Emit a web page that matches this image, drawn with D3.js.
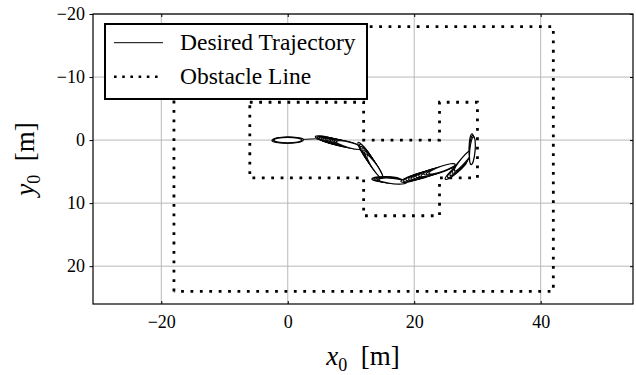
<!DOCTYPE html>
<html>
<head>
<meta charset="utf-8">
<script src="https://cdn.jsdelivr.net/npm/d3@7/dist/d3.min.js"></script>
<style>
  html, body { margin: 0; padding: 0; background: #fff; }
  svg { display: block; }
</style>
</head>
<body>
<svg id="chart" width="636" height="375"></svg>
<script>
// Axis ticks
const xTicks = [-20, 0, 20, 40];
const yTicks = [-20, -10, 0, 10, 20];

// Desired reference path [m]
const desiredX = [0, 4.4, 11.8, 15.0, 18.2, 26.5, 29.0, 29.2];
const desiredY = [0, -0.2, 1.1, 6.2, 6.6, 4.3, 2.0, -0.6];

// Obstacle boundaries [m]
const outerX = [-18, -18, 42, 42, -18];
const outerY = [24, -18, -18, 24, 24];
const innerX = [-6, 12, 12, 24, 24, 30, 30, 24, 24, 12, 12, -6, -6];
const innerY = [-6, -6, 0, 0, -6, -6, 6, 6, 12, 12, 6, 6, -6];

// Vehicle poses along the executed run: position [m], heading [deg]
const poseX = [-0.3, -0.1, 0.1, 0.3, 0,
  6.5, 6.8, 7.1, 7.4, 7.7, 8.0, 8.3, 8.6, 8.9, 9.2, 9.5, 9.8,
  12.4, 12.6, 12.8, 13.0, 13.2, 13.4, 13.6, 13.8,
  15.5, 15.8, 16.1, 16.4, 16.6,
  20.0, 20.4, 20.8, 21.2, 21.6, 22.0, 22.4, 22.8, 23.2, 23.6, 24.0, 24.4,
  26.6, 26.9, 27.2, 27.5, 27.8,
  29.1, 29.15, 29.2];
const poseY = [0.05, -0.05, 0.05, -0.05, 0,
  0.0, 0.14, 0.15, 0.28, 0.3, 0.42, 0.4, 0.55, 0.54, 0.68, 0.66, 0.8,
  2.2, 2.5, 2.8, 3.1, 3.4, 3.7, 4.0, 4.3,
  6.2, 6.3, 6.35, 6.45, 6.5,
  5.95, 5.8, 5.75, 5.55, 5.5, 5.3, 5.25, 5.05, 5.0, 4.8, 4.75, 4.55,
  4.8, 4.4, 4.0, 3.6, 3.2,
  1.2, 1.45, 1.7];
const poseHeading = [0, 0, 0, 0, 0,
  14, 16, 13, 15, 13, 16, 14, 15, 13, 16, 14, 15,
  55, 57, 54, 56, 55, 57, 54, 56,
  1, 3, 4, 5, 6,
  -17, -19, -15, -18, -16, -19, -15, -17, -18, -16, -17, -19,
  -40, -43, -46, -48, -50,
  -89, -87, -85];

const hullLength = 4.4;  // m
const hullWidth = 0.85;  // m

const serif = "Liberation Serif, Times New Roman, serif";
const svg = d3.select("#chart");
const margin = { left: 93, right: 3, top: 14, bottom: 71 };
const W = 636, H = 375;
const x0 = margin.left, x1 = W - margin.right, y0 = margin.top, y1 = H - margin.bottom;

const x = d3.scaleLinear().domain([-30.8, 54.6]).range([x0, x1]);
const y = d3.scaleLinear().domain([-20, 26]).range([y0, y1]);

// Grid
const grid = svg.append("g");
grid.selectAll("line.gx").data(xTicks).join("line")
  .attr("x1", d => x(d)).attr("x2", d => x(d)).attr("y1", y0).attr("y2", y1)
  .attr("stroke", "#b8b8b8").attr("stroke-width", 1);
grid.selectAll("line.gy").data(yTicks).join("line")
  .attr("x1", x0).attr("x2", x1).attr("y1", d => y(d)).attr("y2", d => y(d))
  .attr("stroke", "#b8b8b8").attr("stroke-width", 1);

const fmt = d => (d < 0 ? "\u2212" + Math.abs(d) : String(d));

// Axes
const axB = svg.append("g").attr("transform", `translate(0,${y1})`)
  .call(d3.axisBottom(x).tickValues(xTicks).tickSizeInner(-3).tickSizeOuter(0).tickPadding(11).tickFormat(fmt));
const axL = svg.append("g").attr("transform", `translate(${x0},0)`)
  .call(d3.axisLeft(y).tickValues(yTicks).tickSizeInner(3.5).tickSizeOuter(0).tickPadding(4.5).tickFormat(fmt));
const axT = svg.append("g").attr("transform", `translate(0,${y0})`)
  .call(d3.axisTop(x).tickValues(xTicks).tickSizeInner(-3).tickSizeOuter(0).tickFormat(""));
const axR = svg.append("g").attr("transform", `translate(${x1},0)`)
  .call(d3.axisRight(y).tickValues(yTicks).tickSizeInner(-3).tickSizeOuter(0).tickFormat(""));
[axB, axL, axT, axR].forEach(a => {
  a.attr("font-family", serif).attr("font-size", 18);
  a.select(".domain").remove();
  a.selectAll(".tick line").attr("stroke", "#000").attr("stroke-width", 1);
  a.selectAll(".tick text").attr("fill", "#000");
});

// Obstacles
const line = d3.line().x(d => x(d[0])).y(d => y(d[1]));
const dotted = (xs, ys) => svg.append("path")
  .attr("d", line(xs.map((v, i) => [v, ys[i]])))
  .attr("fill", "none").attr("stroke", "#000").attr("stroke-width", 2.8)
  .attr("stroke-dasharray", "2.8,6.6");
dotted(outerX, outerY);
dotted(innerX, innerY);

// Desired trajectory
svg.append("path")
  .attr("d", line(desiredX.map((v, i) => [v, desiredY[i]])))
  .attr("fill", "none").attr("stroke", "#000").attr("stroke-width", 1);

// Vehicle hull outlines
const rx = x(hullLength / 2) - x(0);
const ry = y(hullWidth / 2) - y(0);
svg.append("g").selectAll("ellipse").data(poseX.map((v, i) => i)).join("ellipse")
  .attr("transform", i => `translate(${x(poseX[i])},${y(poseY[i])}) rotate(${poseHeading[i]})`)
  .attr("rx", rx).attr("ry", ry)
  .attr("fill", "#fff").attr("stroke", "#000").attr("stroke-width", 1.2);

// Frame
svg.append("rect").attr("x", x0).attr("y", y0).attr("width", x1 - x0).attr("height", y1 - y0)
  .attr("fill", "none").attr("stroke", "#000").attr("stroke-width", 1.2);

// Legend
const lg = svg.append("g");
lg.append("rect").attr("x", 105).attr("y", 24).attr("width", 262).attr("height", 75)
  .attr("fill", "#fff").attr("stroke", "#000").attr("stroke-width", 2);
lg.append("line").attr("x1", 114).attr("x2", 163).attr("y1", 42.7).attr("y2", 42.7)
  .attr("stroke", "#000").attr("stroke-width", 1);
lg.append("line").attr("x1", 114).attr("x2", 163).attr("y1", 76.7).attr("y2", 76.7)
  .attr("stroke", "#000").attr("stroke-width", 2.6).attr("stroke-dasharray", "2.6,5.6");
const legendLabels = ["Desired Trajectory", "Obstacle Line"];
lg.selectAll("text").data(legendLabels).join("text")
  .attr("x", 180).attr("y", (d, i) => [50, 84][i])
  .attr("font-family", serif).attr("font-size", 23.5)
  .text(d => d);

// Axis titles
const xl = svg.append("text").attr("x", (x0 + x1) / 2).attr("y", 365).attr("text-anchor", "middle")
  .attr("font-family", serif).attr("font-size", 27);
xl.append("tspan").attr("font-style", "italic").text("x");
xl.append("tspan").attr("font-size", 18).attr("dy", 6).text("0");
xl.append("tspan").attr("dy", -6).text("\u2002[m]");

const yl = svg.append("text").attr("transform", `translate(34,${(y0 + y1) / 2}) rotate(-90)`)
  .attr("text-anchor", "middle")
  .attr("font-family", serif).attr("font-size", 27);
yl.append("tspan").attr("font-style", "italic").text("y");
yl.append("tspan").attr("font-size", 18).attr("dy", 6).text("0");
yl.append("tspan").attr("dy", -6).text("\u2002[m]");
</script>
</body>
</html>
